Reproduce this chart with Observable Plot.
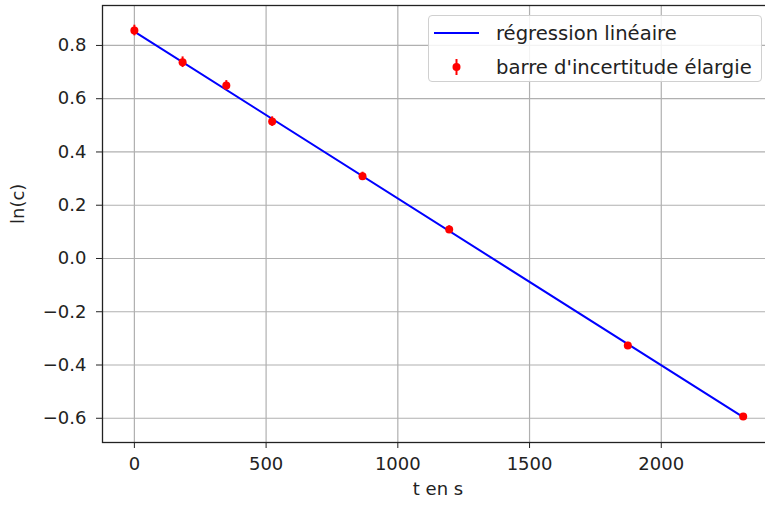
<!DOCTYPE html>
<html>
<head>
<meta charset="utf-8">
<script src="https://cdn.jsdelivr.net/npm/d3@7"></script>
<script src="https://cdn.jsdelivr.net/npm/@observablehq/plot@0.6"></script>
<style>
  html, body { margin: 0; padding: 0; overflow: hidden; background: #fff; }
  #wrap { position: relative; width: 765px; height: 505px; overflow: hidden; font-family: "DejaVu Sans", sans-serif; }
  #wrap > svg { max-width: none !important; width: 775px; height: 505px; display: block; }
  #legend { position: absolute; left: 428px; top: 15px; width: 334px; height: 67px; box-sizing: border-box;
    border: 1px solid #d0d0d0; border-radius: 4px; background: rgba(255,255,255,0.85);
    font-size: 19.6px; color: #222; }
  #legend .row { position: absolute; left: 0; height: 24px; display: flex; align-items: center; white-space: nowrap; }
  #legend svg { display: block; }
</style>
</head>
<body>
<div id="wrap"></div>
<script>
// Measured data points (t in s, ln(c))
const tValues = [0, 183, 349, 523, 866, 1195, 1873, 2311];
const lnValues = [0.856, 0.737, 0.650, 0.514, 0.309, 0.109, -0.327, -0.593];
const lnErrors = [0.020, 0.020, 0.018, 0.018, 0.015, 0.014, 0.012, 0.010];
// Linear regression line
const fitT = [0, 2311];
const fitLn = [0.852, -0.596];
// Tick labels
const xTicks = [0, 500, 1000, 1500, 2000];
const yTicks = [-0.6, -0.4, -0.2, 0.0, 0.2, 0.4, 0.6, 0.8];
const legendLabels = ["régression linéaire", "barre d'incertitude élargie"];
const xLabel = "t en s";
const yLabel = "ln(c)";

const points = tValues.map((t, i) => ({t, y: lnValues[i], lo: lnValues[i] - lnErrors[i], hi: lnValues[i] + lnErrors[i]}));
const fit = fitT.map((t, i) => ({t, y: fitLn[i]}));

const fmt = d3.format(".1f");
const chart = Plot.plot({
  width: 775,
  height: 505,
  marginLeft: 102,
  marginRight: 2,
  marginTop: 5,
  marginBottom: 63,
  style: {fontFamily: "DejaVu Sans, sans-serif", fontSize: "18px", color: "#222", background: "white"},
  x: {domain: [-121, 2426]},
  y: {domain: [-0.691, 0.950]},
  marks: [
    Plot.gridX(xTicks, {stroke: "#b0b0b0", strokeOpacity: 1, strokeWidth: 1.2}),
    Plot.gridY(yTicks, {stroke: "#b0b0b0", strokeOpacity: 1, strokeWidth: 1.2}),
    Plot.line(fit, {x: "t", y: "y", stroke: "#0000ff", strokeWidth: 2}),
    Plot.ruleX(points, {x: "t", y1: "lo", y2: "hi", stroke: "#ff0000", strokeWidth: 2}),
    Plot.dot(points, {x: "t", y: "y", r: 4, fill: "#ff0000", stroke: "none"}),
    Plot.frame({stroke: "#222", strokeWidth: 1.3}),
    Plot.axisX(xTicks, {tickSize: 6, tickPadding: 9, fontSize: 18, label: null, tickFormat: d3.format("d"), stroke: "#222"}),
    Plot.axisY(yTicks, {tickSize: 6, tickPadding: 10, fontSize: 18, label: null, tickFormat: fmt, stroke: "#222"}),
    Plot.text([xLabel], {frameAnchor: "bottom", dy: 52, fontSize: 18, fill: "#222"}),
    Plot.text([yLabel], {frameAnchor: "left", dx: -84, rotate: -90, fontSize: 18, fill: "#222"})
  ]
});
const wrap = document.getElementById("wrap");
wrap.appendChild(chart);

// Legend overlay
const legend = document.createElement("div");
legend.id = "legend";
legend.innerHTML = `
  <div class="row" style="top:5px;">
    <svg width="63" height="24" style="margin-left:4px"><line x1="1" x2="46" y1="12" y2="12" stroke="#0000ff" stroke-width="2.2"/></svg>
    <span>${legendLabels[0]}</span>
  </div>
  <div class="row" style="top:39px;">
    <svg width="63" height="24" style="margin-left:4px"><line x1="23.5" x2="23.5" y1="4" y2="20" stroke="#ff0000" stroke-width="2"/><circle cx="23.5" cy="12" r="4" fill="#ff0000"/></svg>
    <span>${legendLabels[1]}</span>
  </div>`;
wrap.appendChild(legend);
</script>
</body>
</html>
